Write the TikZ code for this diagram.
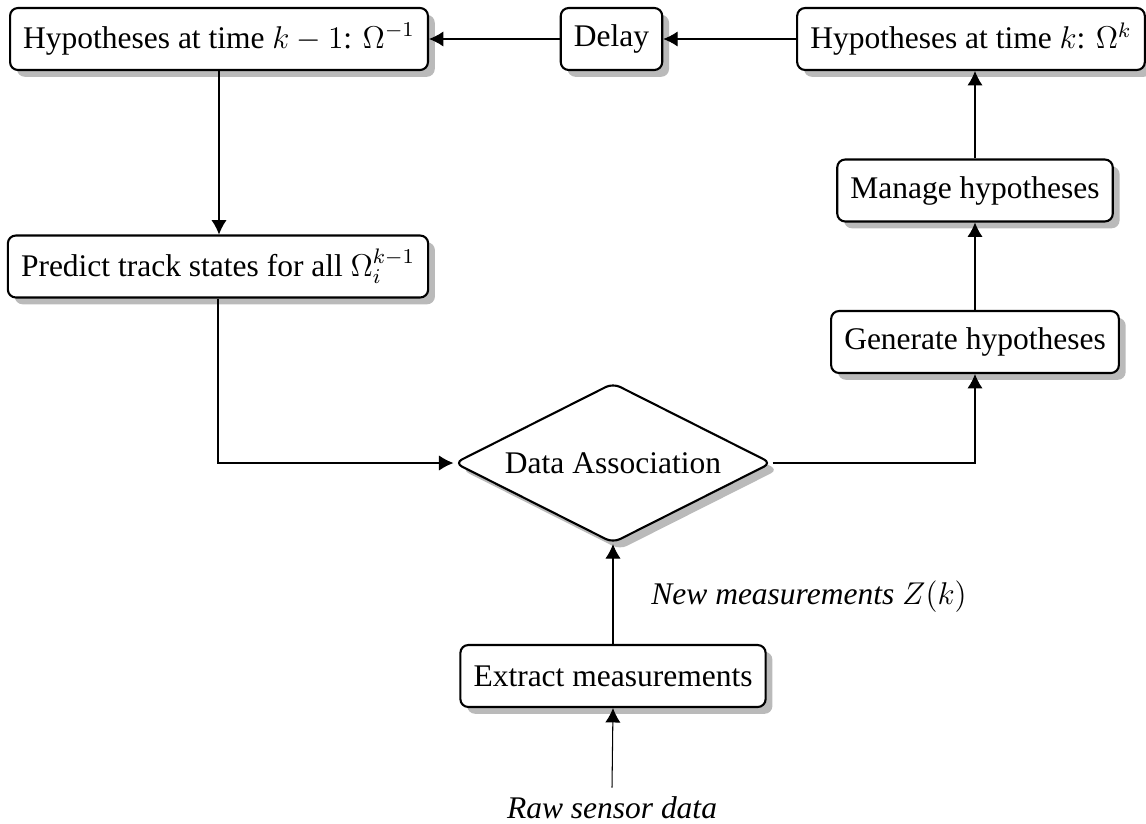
\documentclass[tikz,border=0pt]{standalone}
\usepackage[no-math]{fontspec}
\setmainfont{Liberation Serif}
\usetikzlibrary{shapes.geometric,shadows,arrows.meta}
\begin{document}
\begin{tikzpicture}[x=0.381pt,y=-0.381pt,
  font=\fontsize{12}{14.4}\selectfont,
  boxshadow/.style={drop shadow={shadow xshift=2.6pt, shadow yshift=-2.6pt, fill=black!27, opacity=1}},
  block/.style={draw, thick, fill=white, rounded corners=3pt, minimum height=23.6pt,
    inner xsep=5pt, boxshadow},
  decision/.style={draw, thick, fill=white, diamond, aspect=2, rounded corners=3pt,
    inner sep=0pt, minimum width=120.8pt, minimum height=61pt, boxshadow},
  flow/.style={-{Latex[length=5.5pt,width=5.8pt]}, line width=0.4pt},
  tag/.style={font=\fontsize{12}{14.4}\selectfont\itshape}
]
\useasboundingbox (0,0) rectangle (1146,823);

% process steps
\node[block] (h1) at (219,39) {Hypotheses at time $k-1$: $\Omega^{-1}$};
\node[block] (delay) at (611.5,39) {Delay};
\node[block] (hk) at (971,39) {Hypotheses at time $k$: $\Omega^{k}$};
\node[block] (manage) at (975,190.5) {Manage hypotheses};
\node[block] (generate) at (975,342) {Generate hypotheses};
\node[block] (predict) at (218,266.5) {Predict track states for all $\Omega_i^{k-1}$};
\node[decision] (da) at (613,463) {Data Association};
\node[block] (extract) at (613,676) {Extract measurements};

% free labels
\node[tag] (newm) at (809,597) {New measurements $Z(k)$};
\node[tag] (raw) at (612,808) {Raw sensor data};

% connectors
\draw[flow] (hk.west) -- (delay.east);
\draw[flow] (delay.west) -- (h1.east);
\draw[flow] (h1.south) -- (h1.south |- predict.north);
\draw[flow] (predict.south) |- (da.west);
\draw[flow] (da.east) -| (generate.south);
\draw[flow] (generate.north) -- (manage.south);
\draw[flow] (manage.north) -- (manage.north |- hk.south);
\draw[flow] (extract.north) -- (da.south);
\draw[flow] (raw.north) -- (extract.south);
\end{tikzpicture}
\end{document}
